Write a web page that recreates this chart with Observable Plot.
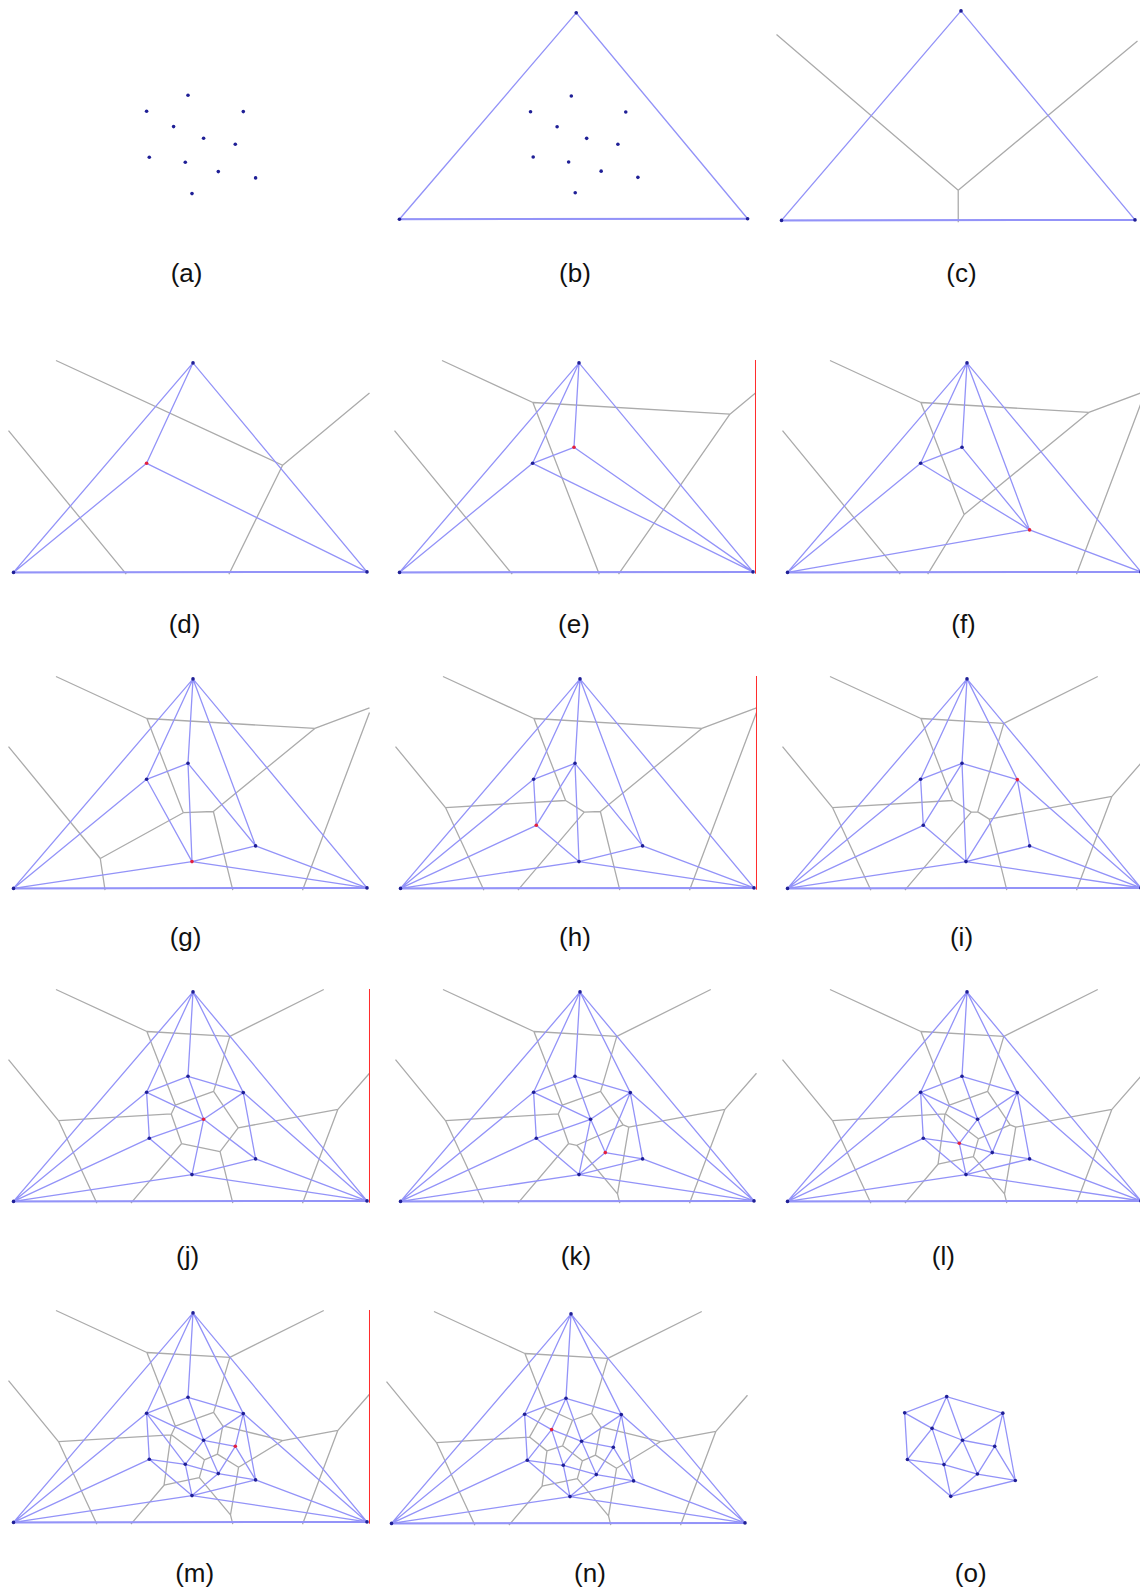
<!DOCTYPE html>
<html><head><meta charset="utf-8">
<script src="https://cdn.jsdelivr.net/npm/d3@7"></script>
<script src="https://cdn.jsdelivr.net/npm/@observablehq/plot@0.6"></script>
<style>
body{margin:0;background:#fff;}
#root{position:relative;width:1140px;height:1591px;overflow:hidden;background:#fff;}
.panel{position:absolute;}
.lab{position:absolute;font-family:"Liberation Sans",Arial,sans-serif;font-size:26px;color:#111;transform:translate(-50%,-50%);white-space:nowrap;line-height:1;}
</style></head><body><div id="root"></div>
<script>
// Super-triangle vertices (top, bottom-left, bottom-right), y grows downward
const superX = [0, -179.5, 174];
const superY = [0, 209.5, 209];
// Sites in insertion order
const pointX = [-46.4, -5.0, 62.6, -1.0, -43.7, 50.3, 10.6, 25.3, -7.7, 42.3, -19.4];
const pointY = [100.4, 84.4, 167.0, 182.7, 146.4, 100.7, 127.4, 160.7, 151.4, 133.4, 115.7];
// Voronoi clipping extent (x and y domains)
const clipX = [-184.5, 176.5];
const clipY = [-2.4, 211.3];
const labels = ["(a)","(b)","(c)","(d)","(e)","(f)","(g)","(h)","(i)","(j)","(k)","(l)","(m)","(n)","(o)"];
// kind of each panel; k = number of inserted sites
const kinds = ["points","triangle","super","step","step","step","step","step","step","step","step","step","step","step","final"];
const steps = [0,0,0,1,2,3,4,5,6,7,8,9,10,11,11];
const redEdge = [false,false,false,false,true,false,false,true,false,true,false,false,true,false,false];

// layout (pixel positions of each panel's top vertex, scale, label centre)
const layout = [
  {tx:192.5, ty:10.3, s:1.0, lx:186.6, ly:272.5},
  {tx:575.7, ty:12.7, s:0.985, lx:575, ly:272.5},
  {tx:960, ty:10.7, s:1.0, lx:961.5, ly:272.5},
  {tx:192.7, ty:362.3, s:1, lx:184.6, ly:623.5},
  {tx:578.7, ty:362.3, s:1, lx:574, ly:623.5},
  {tx:966.5, ty:362.3, s:1, lx:963.5, ly:623.5},
  {tx:192.7, ty:678.3, s:1, lx:185.6, ly:937},
  {tx:579.6, ty:678.3, s:1, lx:575, ly:937},
  {tx:966.5, ty:678.3, s:1, lx:961.5, ly:937},
  {tx:192, ty:991.7, s:1, lx:187.6, ly:1255.5},
  {tx:579.3, ty:991.7, s:1, lx:576, ly:1255.5},
  {tx:966.5, ty:991.7, s:1, lx:943.3, ly:1255.5},
  {tx:192.3, ty:1312.7, s:1, lx:194.7, ly:1573},
  {tx:570.7, ty:1313.3, s:1, lx:590, ly:1573},
  {tx:951.2, ty:1310, s:1.015, lx:970.7, ly:1573}
];

const BLUE = "#9393f8", GRAY = "#ababab", DOT = "#1f1f96", RED = "#e3203f";
const superPts = superX.map((x,i)=>({x, y:superY[i], role:"super"}));
const sitePts = pointX.map((x,i)=>({x, y:pointY[i], role:"site", idx:i}));
const baseEdge = [{x1:superX[1], y1:superY[1], x2:superX[2], y2:superY[2]}];

const root = document.getElementById("root");
const M = 4;
const SW = 1.3;

labels.forEach((lab, p) => {
  const L = layout[p];
  const W = (clipX[1]-clipX[0])*L.s, H = (clipY[1]-clipY[0])*L.s;
  const kind = kinds[p], k = steps[p];
  const marks = [];
  let dots = [];
  const base = () => Plot.link(baseEdge, {x1:"x1", y1:"y1", x2:"x2", y2:"y2", stroke:BLUE, strokeWidth:2});
  if (kind === "points") {
    dots = sitePts;
  } else if (kind === "triangle") {
    marks.push(Plot.delaunayMesh(superPts, {x:"x", y:"y", stroke:BLUE, strokeOpacity:1, strokeWidth:SW}));
    marks.push(base());
    dots = superPts.concat(sitePts);
  } else if (kind === "super") {
    marks.push(Plot.voronoiMesh(superPts, {x:"x", y:"y", stroke:GRAY, strokeOpacity:1, strokeWidth:SW}));
    marks.push(Plot.delaunayMesh(superPts, {x:"x", y:"y", stroke:BLUE, strokeOpacity:1, strokeWidth:SW}));
    marks.push(base());
    dots = superPts;
  } else if (kind === "step") {
    const pts = superPts.concat(sitePts.slice(0, k));
    marks.push(Plot.voronoiMesh(pts, {x:"x", y:"y", stroke:GRAY, strokeOpacity:1, strokeWidth:SW}));
    marks.push(Plot.delaunayMesh(pts, {x:"x", y:"y", stroke:BLUE, strokeOpacity:1, strokeWidth:SW}));
    marks.push(base());
    dots = pts;
  } else if (kind === "final") {
    marks.push(Plot.delaunayMesh(sitePts, {x:"x", y:"y", stroke:BLUE, strokeOpacity:1, strokeWidth:SW}));
    dots = sitePts;
  }
  if (redEdge[p]) marks.push(Plot.ruleX([clipX[1]], {stroke:"#ff2a2a", strokeWidth:1}));
  const isNew = d => kind === "step" && d.role === "site" && d.idx === k-1;
  marks.push(Plot.dot(dots, {x:"x", y:"y", r:1.8, stroke:null, fill: d => isNew(d) ? RED : DOT}));

  const plot = Plot.plot({
    width: W + 2*M, height: H + 2*M, margin: M,
    x: {domain: clipX, axis: null},
    y: {domain: clipY, reverse: true, axis: null},
    style: {background: "transparent", overflow: "visible"},
    marks
  });
  plot.classList.add("panel");
  plot.style.left = (L.tx - (0 - clipX[0])*L.s - M) + "px";
  plot.style.top = (L.ty - (0 - clipY[0])*L.s - M) + "px";
  root.appendChild(plot);

  const t = document.createElement("div");
  t.className = "lab";
  t.textContent = lab;
  t.style.left = L.lx + "px";
  t.style.top = L.ly + "px";
  root.appendChild(t);
});
</script></body></html>
